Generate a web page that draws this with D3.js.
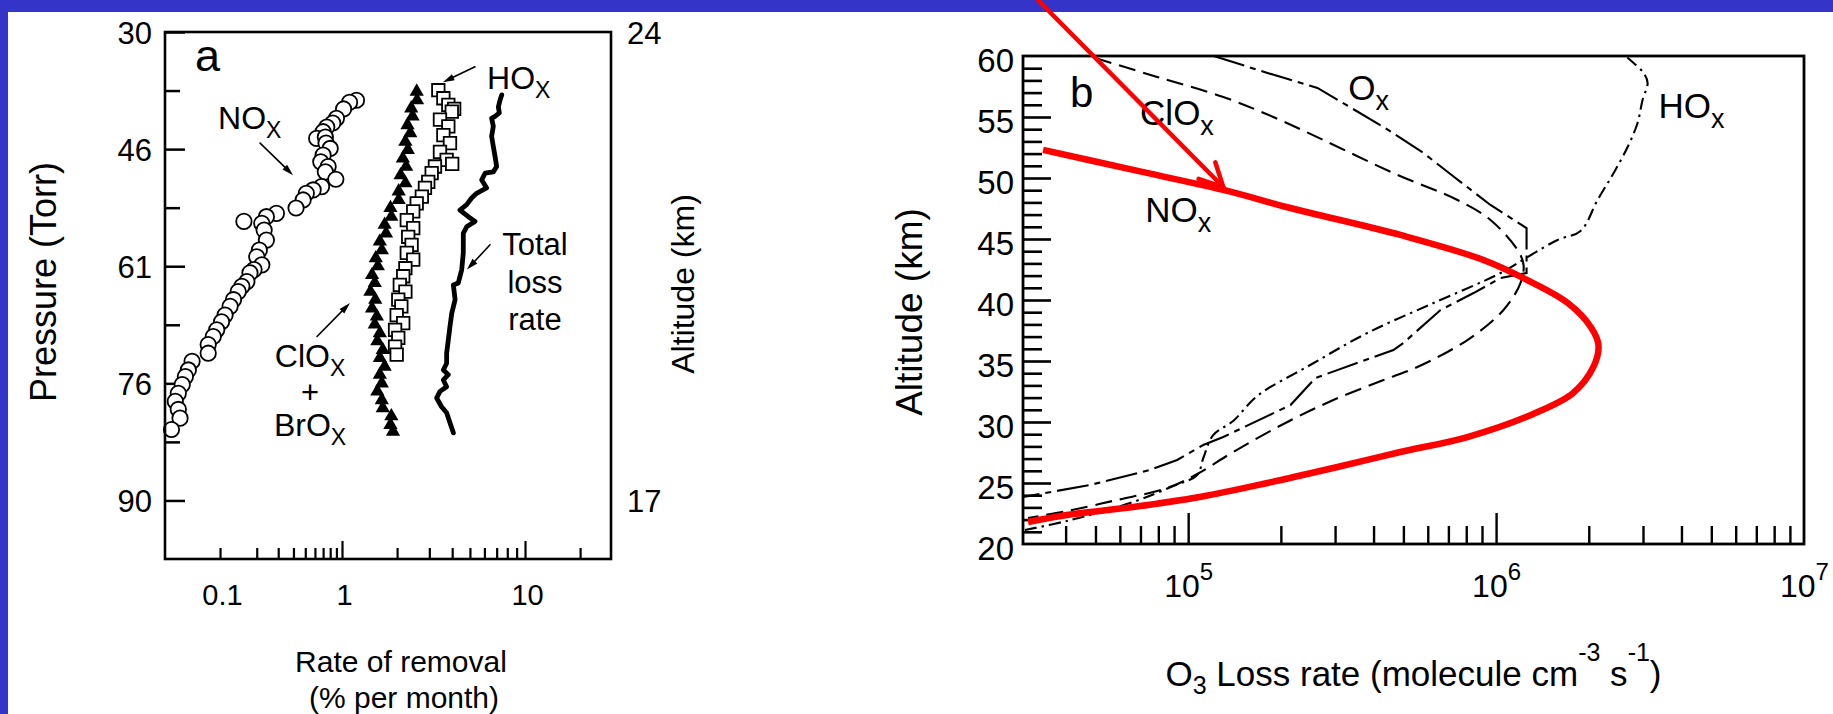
<!DOCTYPE html>
<html>
<head>
<meta charset="utf-8">
<script src="https://cdn.jsdelivr.net/npm/d3@7"></script>
<style>
  html, body { margin: 0; padding: 0; background: #3434c8; }
  svg { display: block; }
  text { font-family: "Liberation Sans", Arial, Helvetica, sans-serif; fill: #000; }
</style>
</head>
<body>
<svg id="chart" width="1833" height="714"></svg>
<script>
// ---------- panel a : rate of removal (% per month) vs altitude (km) ----------
const noxRate = [1.20, 1.10, 1.02, 0.90, 0.84, 0.75, 0.70, 0.62, 0.73, 0.74, 0.80, 0.70, 0.67, 0.77, 0.73, 0.89,
  0.68, 0.58, 0.51, 0.48, 0.42, 0.29, 0.24, 0.157, 0.22, 0.23, 0.24, 0.21, 0.20, 0.22, 0.19, 0.176, 0.166,
  0.151, 0.141, 0.129, 0.121, 0.110, 0.103, 0.094, 0.088, 0.080, 0.080, 0.059, 0.055, 0.052, 0.049, 0.0455,
  0.043, 0.0455, 0.047, 0.040];
const noxAlt = [22.98, 22.95, 22.85, 22.71, 22.64, 22.58, 22.51, 22.41, 22.43, 22.34, 22.26, 22.16, 22.06, 21.99,
  21.91, 21.80, 21.69, 21.64, 21.59, 21.49, 21.37, 21.29, 21.24, 21.17, 21.14, 21.04, 20.89, 20.74, 20.64, 20.52,
  20.45, 20.40, 20.27, 20.20, 20.12, 20.00, 19.90, 19.77, 19.67, 19.55, 19.45, 19.33, 19.20, 19.08, 18.95, 18.85,
  18.73, 18.60, 18.48, 18.36, 18.23, 18.06];

const cloxRate = [2.56, 2.57, 2.39, 2.43, 2.28, 2.36, 2.22, 2.29, 2.15, 2.24, 2.09, 2.22, 2.04, 2.04, 1.84, 1.86,
  1.71, 1.74, 1.61, 1.65, 1.53, 1.57, 1.46, 1.51, 1.43, 1.52, 1.46, 1.55, 1.51, 1.61, 1.56, 1.67, 1.61, 1.71,
  1.61, 1.65, 1.56, 1.65, 1.67, 1.86, 1.84, 1.90];
const cloxAlt = [23.11, 22.98, 22.86, 22.74, 22.61, 22.49, 22.36, 22.24, 22.11, 21.99, 21.86, 21.74, 21.62, 21.49,
  21.37, 21.24, 21.12, 20.99, 20.87, 20.74, 20.62, 20.50, 20.37, 20.25, 20.12, 20.00, 19.87, 19.75, 19.63, 19.50,
  19.38, 19.25, 19.13, 19.00, 18.88, 18.75, 18.63, 18.50, 18.38, 18.26, 18.13, 18.03];

const hoxRate = [3.36, 3.58, 3.81, 4.10, 3.98, 3.43, 3.81, 3.58, 3.89, 3.43, 3.73, 4.00, 3.22, 3.09, 2.96, 2.84,
  2.73, 2.56, 2.45, 2.26, 2.45, 2.30, 2.40, 2.26, 2.45, 2.22, 2.16, 2.07, 2.22, 2.03, 2.11, 1.99, 2.16, 1.95,
  2.03, 1.95, 1.99];
const hoxAlt = [23.13, 23.01, 22.91, 22.85, 22.81, 22.69, 22.59, 22.46, 22.34, 22.21, 22.09, 22.03, 21.99, 21.89,
  21.76, 21.67, 21.54, 21.44, 21.32, 21.19, 21.07, 20.94, 20.82, 20.70, 20.60, 20.47, 20.35, 20.22, 20.12, 20.00,
  19.90, 19.77, 19.65, 19.55, 19.43, 19.30, 19.18];

const totalRate = [7.46, 7.30, 7.15, 7.24, 6.86, 6.57, 6.71, 6.57, 6.71, 6.86, 7.00, 6.71, 6.05, 5.80, 6.17, 5.44,
  5.11, 4.80, 4.41, 4.90, 5.33, 4.80, 4.60, 4.60, 4.51, 4.32, 4.06, 4.15, 3.98, 3.89, 3.81, 3.73, 3.73, 3.58,
  3.81, 3.58, 3.73, 3.43, 3.29, 3.50, 3.73, 3.89, 4.06];
const totalAlt = [23.06, 22.98, 22.88, 22.79, 22.74, 22.71, 22.59, 22.44, 22.29, 22.14, 21.99, 21.91, 21.89, 21.79,
  21.67, 21.59, 21.52, 21.42, 21.34, 21.24, 21.17, 21.09, 20.99, 20.70, 20.45, 20.25, 20.22, 20.00, 19.80, 19.60,
  19.40, 19.20, 19.05, 18.95, 18.88, 18.80, 18.70, 18.63, 18.53, 18.40, 18.31, 18.16, 18.01];

const pressureTicks = [30, 46, 61, 76, 90];
const pressureTickAlt = [24, 22.25, 20.5, 18.75, 17];
const pressureMinor = [38, 53.5, 68.5, 83];
const altTicksA = [24, 17];
const rateLabels = [0.1, 1, 10];
const rateMajor = [1, 10];
const rateMinor = [0.1, 0.2, 0.3, 0.4, 0.5, 0.6, 0.7, 0.8, 0.9, 2, 3, 4, 5, 6, 7, 8, 9, 20];

// ---------- panel b : O3 loss rate (molecule cm-3 s-1) vs altitude (km) ----------
const bNoxRate = [3.38e4, 6.63e4, 1.30e5, 2.15e5, 4.89e5, 9.10e5, 1.32e6, 1.71e6, 2.03e6, 2.15e6, 2.07e6,
  1.78e6, 1.32e6, 8.07e5, 4.89e5, 2.96e5, 1.81e5, 1.09e5, 6.63e4, 4.04e4, 3.02e4];
const bNoxAlt = [52.3, 50.66, 49.02, 47.54, 45.33, 43.28, 41.39, 39.75, 37.79, 36.31, 34.51, 32.38, 30.66, 28.77,
  27.54, 26.23, 25.0, 23.85, 23.03, 22.38, 21.8];

const bCloxRate = [4.99e4, 7.93e4, 1.30e5, 1.89e5, 2.75e5, 4.71e5, 7.49e5, 9.59e5, 1.174e6, 1.228e6, 1.20e6,
  1.057e6, 8.07e5, 5.55e5, 4.31e5, 2.96e5, 2.04e5, 1.40e5, 1.07e5, 8.55e4, 5.88e4, 4.04e4, 3.02e4];
const bCloxAlt = [59.84, 58.28, 56.64, 55.0, 53.11, 50.33, 48.2, 46.56, 44.1, 42.87, 41.39, 39.18, 36.72, 34.51,
  33.44, 31.8, 29.84, 27.54, 25.74, 24.59, 23.61, 22.7, 22.13];

const bOxRate = [1.21e5, 1.81e5, 2.63e5, 4.31e5, 5.81e5, 7.38e5, 9.59e5, 1.256e6, 1.256e6, 1.034e6, 8.45e5,
  6.60e5, 5.0e5, 4.64e5, 2.59e5, 2.15e5, 1.30e5, 1.119e5, 9.21e4, 7.52e4, 4.80e4, 2.91e4];
const bOxAlt = [60.0, 58.61, 57.38, 54.18, 52.05, 50.0, 47.79, 45.9, 42.21, 41.8, 40.57, 39.18, 36.48, 35.9,
  33.61, 31.39, 28.77, 28.11, 26.89, 26.07, 24.84, 23.85];

const bHoxRate = [2.95e4, 4.04e4, 6.63e4, 8.94e4, 1.07e5, 1.12e5, 1.206e5, 1.40e5, 1.676e5, 2.49e5, 3.82e5,
  6.26e5, 1.034e6, 1.265e6, 1.583e6, 1.881e6, 2.136e6, 2.409e6, 2.674e6, 2.88e6, 2.99e6, 3.105e6, 3.015e6,
  2.797e6, 2.635e6];
const bHoxAlt = [21.15, 21.89, 23.44, 24.75, 25.66, 27.05, 28.93, 30.08, 32.13, 34.67, 37.3, 39.75, 42.21, 43.52,
  44.92, 45.66, 48.2, 50.41, 52.54, 54.51, 56.39, 57.79, 58.61, 59.43, 60.0];

const altTicksB = [20, 25, 30, 35, 40, 45, 50, 55, 60];
const altMajorB = [25, 30, 35, 40, 45, 50, 55];
const altMinorB = d3.range(21, 60).filter(v => v % 5 !== 0);
const lossLabels = [1e5, 1e6, 1e7];
const lossMajor = [1e5, 1e6];
const lossMinor = [4e4, 5e4, 6e4, 7e4, 8e4, 9e4, 2e5, 3e5, 4e5, 5e5, 6e5, 7e5, 8e5, 9e5,
  2e6, 3e6, 4e6, 5e6, 6e6, 7e6, 8e6, 9e6];

// ---------- layout ----------
const W = 1833, H = 714;
const A = { left: 165, top: 32, right: 611, bottom: 559 };
const B = { left: 1023, top: 56, right: 1804, bottom: 544 };
const FONT = '"Liberation Sans", Arial, Helvetica, sans-serif';

const svg = d3.select('#chart');
svg.append('rect').attr('x', 8).attr('y', 12).attr('width', W - 8).attr('height', H - 12).attr('fill', '#fff');

// scales (the original figure draws the 0.1-1 decade narrower than the 1-10 one)
const xA = d3.scaleLog().domain([0.0354, 1, 29.5]).range([A.left, A.left + 177, A.right]);
const yA = d3.scaleLinear().domain([24, 16.125]).range([A.top, A.bottom]);
const yP = d3.scaleLinear().domain(pressureTicks).range(pressureTickAlt.map(a => yA(a)));

const xB = d3.scaleLog().domain([2.908e4, 1e7]).range([B.left, B.right]);
const yB = d3.scaleLinear().domain([20, 60]).range([B.bottom, B.top]);

function styleAxis(g, size, sw) {
  g.attr('font-family', FONT).attr('font-size', size);
  g.select('.domain').remove();
  g.selectAll('.tick line').attr('stroke', '#000').attr('stroke-width', sw);
  g.selectAll('.tick text').attr('fill', '#000');
}

function chem(g, x, y, main, sub, o) {
  const t = g.append('text').attr('x', x).attr('y', y)
    .attr('font-size', o.size).attr('text-anchor', o.anchor || 'start');
  t.append('tspan').text(main);
  if (sub) t.append('tspan').attr('font-size', o.subSize).attr('dy', o.shift).text(sub);
  return t;
}

function arrow(g, x1, y1, x2, y2, o) {
  const ang = Math.atan2(y2 - y1, x2 - x1);
  const p1 = [x2 - o.head * Math.cos(ang - o.spread), y2 - o.head * Math.sin(ang - o.spread)];
  const p2 = [x2 - o.head * Math.cos(ang + o.spread), y2 - o.head * Math.sin(ang + o.spread)];
  g.append('line').attr('x1', x1).attr('y1', y1)
    .attr('x2', o.filled ? x2 - o.head * 0.6 * Math.cos(ang) : x2)
    .attr('y2', o.filled ? y2 - o.head * 0.6 * Math.sin(ang) : y2)
    .attr('stroke', o.color).attr('stroke-width', o.width).attr('stroke-linecap', 'round');
  if (o.filled) {
    g.append('path').attr('d', `M${x2},${y2}L${p1}L${p2}Z`).attr('fill', o.color);
  } else {
    g.append('path').attr('d', `M${p1}L${x2},${y2}L${p2}`).attr('fill', 'none')
      .attr('stroke', o.color).attr('stroke-width', o.width).attr('stroke-linecap', 'round');
  }
}

// ================= panel a =================
const gA = svg.append('g');

gA.append('g').attr('transform', `translate(${A.left},0)`)
  .call(d3.axisLeft(yP).tickValues(pressureTicks).tickSize(-20).tickPadding(13))
  .call(g => styleAxis(g, 31, 2.5))
  .call(g => g.selectAll('.tick text').attr('dy', '0.36em'));
gA.append('g').attr('transform', `translate(${A.left},0)`)
  .call(d3.axisLeft(yP).tickValues(pressureMinor).tickSize(-15).tickFormat(''))
  .call(g => styleAxis(g, 31, 2.5));

gA.append('g').attr('transform', `translate(${A.right},0)`)
  .call(d3.axisRight(yA).tickValues(altTicksA).tickSize(0).tickPadding(16))
  .call(g => styleAxis(g, 31, 0))
  .call(g => g.selectAll('.tick text').attr('dy', '0.36em'));

gA.append('g').attr('transform', `translate(0,${A.bottom})`)
  .call(d3.axisBottom(xA).tickValues(rateMinor).tickSize(-11).tickFormat(''))
  .call(g => styleAxis(g, 29, 2.2));
gA.append('g').attr('transform', `translate(0,${A.bottom})`)
  .call(d3.axisBottom(xA).tickValues(rateMajor).tickSize(-18).tickFormat(''))
  .call(g => styleAxis(g, 29, 2.2));
gA.append('g').attr('transform', `translate(0,${A.bottom})`)
  .call(d3.axisBottom(xA).tickValues(rateLabels).tickSize(0).tickPadding(25).tickFormat(d3.format('~g')))
  .call(g => styleAxis(g, 29, 0))
  .call(g => g.selectAll('.tick text').attr('dx', 2));

// NOx circles
gA.selectAll('circle.nox').data(d3.zip(noxRate, noxAlt)).join('circle').attr('class', 'nox')
  .attr('cx', d => xA(d[0])).attr('cy', d => yA(d[1])).attr('r', 7.7)
  .attr('fill', '#fff').attr('stroke', '#000').attr('stroke-width', 1.8);

// ClOx + BrOx triangles
gA.selectAll('path.clox').data(d3.zip(cloxRate, cloxAlt)).join('path').attr('class', 'clox')
  .attr('transform', d => `translate(${xA(d[0])},${yA(d[1])})`)
  .attr('d', d3.symbol(d3.symbolTriangle, 88)).attr('fill', '#000');

// HOx squares
gA.selectAll('path.hox').data(d3.zip(hoxRate, hoxAlt)).join('path').attr('class', 'hox')
  .attr('transform', d => `translate(${xA(d[0])},${yA(d[1])})`)
  .attr('d', d3.symbol(d3.symbolSquare, 156))
  .attr('fill', '#fff').attr('stroke', '#000').attr('stroke-width', 1.8);

// total loss rate
gA.append('path').datum(d3.zip(totalRate, totalAlt))
  .attr('d', d3.line().x(d => xA(d[0])).y(d => yA(d[1])))
  .attr('fill', 'none').attr('stroke', '#000').attr('stroke-width', 4.8)
  .attr('stroke-linejoin', 'round').attr('stroke-linecap', 'round');

gA.append('rect').attr('x', A.left).attr('y', A.top)
  .attr('width', A.right - A.left).attr('height', A.bottom - A.top)
  .attr('fill', 'none').attr('stroke', '#000').attr('stroke-width', 2.6);

// annotations of panel a
const subA = { size: 32, subSize: 23, shift: 9 };
gA.append('text').attr('x', xA(0.0624)).attr('y', yA(23.42)).attr('font-size', 45).text('a');
chem(gA, xA(0.0963), yA(22.55), 'NO', 'X', subA);
chem(gA, xA(6.20), yA(23.15), 'HO', 'X', subA);
['Total', 'loss', 'rate'].forEach((s, i) => {
  gA.append('text').attr('x', xA(11.34)).attr('y', yA([20.668, 20.10, 19.547][i]))
    .attr('font-size', 31).attr('text-anchor', 'middle').text(s);
});
chem(gA, xA(0.547), yA(18.99), 'ClO', 'X', Object.assign({ anchor: 'middle' }, subA));
gA.append('text').attr('x', xA(0.547)).attr('y', yA(18.46)).attr('font-size', 31)
  .attr('text-anchor', 'middle').text('+');
chem(gA, xA(0.547), yA(17.97), 'BrO', 'X', Object.assign({ anchor: 'middle' }, subA));

const blackArrow = { color: '#000', width: 1.6, head: 12, spread: 0.28, filled: true };
arrow(gA, xA(0.213), yA(22.34), xA(0.397), yA(21.86), blackArrow);
arrow(gA, xA(5.33), yA(23.48), xA(3.56), yA(23.25), blackArrow);
arrow(gA, xA(6.44), yA(20.82), xA(4.82), yA(20.45), blackArrow);
arrow(gA, xA(0.624), yA(19.45), xA(1.106), yA(19.95), blackArrow);

// axis titles of panel a
svg.append('text').attr('transform', `translate(56,282) rotate(-90)`)
  .attr('font-size', 36).attr('text-anchor', 'middle').text('Pressure (Torr)');
svg.append('text').attr('transform', `translate(694,284) rotate(-90)`)
  .attr('font-size', 32).attr('text-anchor', 'middle').text('Altitude (km)');
svg.append('text').attr('x', 401).attr('y', 672).attr('font-size', 30)
  .attr('text-anchor', 'middle').text('Rate of removal');
svg.append('text').attr('x', 404).attr('y', 708).attr('font-size', 30)
  .attr('text-anchor', 'middle').text('(% per month)');

// ================= panel b =================
const gB = svg.append('g');

gB.append('g').attr('transform', `translate(${B.left},0)`)
  .call(d3.axisLeft(yB).tickValues(altMinorB).tickSize(-19).tickFormat(''))
  .call(g => styleAxis(g, 33, 2.6));
gB.append('g').attr('transform', `translate(${B.left},0)`)
  .call(d3.axisLeft(yB).tickValues(altMajorB).tickSize(-28).tickFormat(''))
  .call(g => styleAxis(g, 33, 2.6));
gB.append('g').attr('transform', `translate(${B.left},0)`)
  .call(d3.axisLeft(yB).tickValues(altTicksB).tickSize(0).tickPadding(9))
  .call(g => styleAxis(g, 33, 0))
  .call(g => g.selectAll('.tick text').attr('dy', '0.46em'));

gB.append('g').attr('transform', `translate(0,${B.bottom})`)
  .call(d3.axisBottom(xB).tickValues(lossMinor).tickSize(-18).tickFormat(''))
  .call(g => styleAxis(g, 32, 2.4));
gB.append('g').attr('transform', `translate(0,${B.bottom})`)
  .call(d3.axisBottom(xB).tickValues(lossMajor).tickSize(-31).tickFormat(''))
  .call(g => styleAxis(g, 32, 2.4));
gB.append('g').attr('transform', `translate(0,${B.bottom})`)
  .call(d3.axisBottom(xB).tickValues(lossLabels).tickSize(0).tickPadding(30).tickFormat(''))
  .call(g => styleAxis(g, 32, 0))
  .call(g => g.selectAll('.tick text').each(function (d) {
    const t = d3.select(this);
    t.append('tspan').text('10');
    t.append('tspan').attr('font-size', 24).attr('dy', -17).text(Math.round(Math.log10(d)));
  }));

const lineB = d3.line().x(d => xB(d[0])).y(d => yB(d[1]));

gB.append('path').datum(d3.zip(bCloxRate, bCloxAlt))
  .attr('d', lineB.curve(d3.curveCatmullRom.alpha(0.5)))
  .attr('fill', 'none').attr('stroke', '#000').attr('stroke-width', 2.1).attr('stroke-dasharray', '17,8');
gB.append('path').datum(d3.zip(bOxRate, bOxAlt))
  .attr('d', lineB.curve(d3.curveLinear))
  .attr('fill', 'none').attr('stroke', '#000').attr('stroke-width', 2.1).attr('stroke-dasharray', '32,6,6,6');
gB.append('path').datum(d3.zip(bHoxRate, bHoxAlt))
  .attr('d', lineB.curve(d3.curveCatmullRom.alpha(0.5)))
  .attr('fill', 'none').attr('stroke', '#000').attr('stroke-width', 2.1).attr('stroke-dasharray', '12,5,2.5,5');
gB.append('path').datum(d3.zip(bNoxRate, bNoxAlt))
  .attr('d', lineB.curve(d3.curveCatmullRom.alpha(0.5)))
  .attr('fill', 'none').attr('stroke', '#ff0000').attr('stroke-width', 6.5).attr('stroke-linecap', 'butt');

gB.append('rect').attr('x', B.left).attr('y', B.top)
  .attr('width', B.right - B.left).attr('height', B.bottom - B.top)
  .attr('fill', 'none').attr('stroke', '#000').attr('stroke-width', 2.8);

const subB = { size: 35, subSize: 27, shift: 10 };
gB.append('text').attr('x', xB(4.13e4)).attr('y', yB(55.82)).attr('font-size', 42).text('b');
chem(gB, xB(6.98e4), yB(54.34), 'ClO', 'x', subB);
chem(gB, xB(7.25e4), yB(46.39), 'NO', 'x', subB);
chem(gB, xB(3.31e5), yB(56.39), 'O', 'x', subB);
chem(gB, xB(3.37e6), yB(54.92), 'HO', 'x', subB);

// axis titles of panel b
svg.append('text').attr('transform', `translate(922,312) rotate(-90)`)
  .attr('font-size', 37).attr('text-anchor', 'middle').text('Altitude (km)');
const tB = svg.append('text').attr('x', (B.left + B.right) / 2).attr('y', 686)
  .attr('font-size', 35).attr('text-anchor', 'middle');
tB.append('tspan').text('O');
tB.append('tspan').attr('font-size', 25).attr('dy', 8).text('3');
tB.append('tspan').attr('dy', -8).text(' Loss rate (molecule cm');
tB.append('tspan').attr('font-size', 25).attr('dy', -25).text('-3');
tB.append('tspan').attr('dy', 25).text(' s');
tB.append('tspan').attr('font-size', 25).attr('dy', -25).text('-1');
tB.append('tspan').attr('dy', 25).text(')');

// red pointer to the NOx curve
arrow(svg, xB(3.25e4), yB(64.59), xB(1.30e5), yB(49.26),
  { color: '#ff0000', width: 4.5, head: 26, spread: 0.47, filled: false });
</script>
</body>
</html>
